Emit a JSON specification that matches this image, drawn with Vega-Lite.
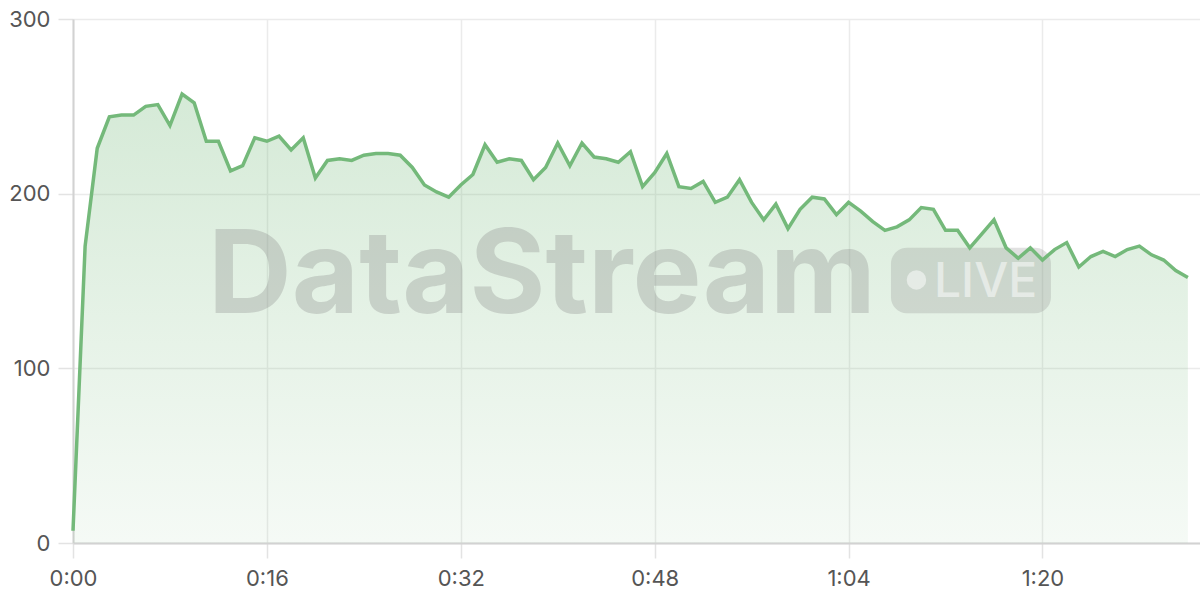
{
  "$schema": "https://vega.github.io/schema/vega-lite/v6.json",
  "description": "DataStream live throughput, one sample per second",
  "width": 1127,
  "height": 524,
  "autosize": {"type": "none"},
  "padding": {"left": 73, "top": 19, "right": 0, "bottom": 57},
  "background": "#ffffff",
  "config": {
    "view": {"stroke": null},
    "axis": {
      "labelFont": "Inter",
      "labelFontSize": 22,
      "labelColor": "#555555",
      "gridColor": "#ebebeb",
      "gridWidth": 1.5,
      "tickColor": "#e3e3e3",
      "tickWidth": 1.5,
      "tickSize": 15,
      "domainColor": "#d2d2d2",
      "domainWidth": 2,
      "title": null
    }
  },
  "datasets": {
    "series": [
      {"t": 0, "v": 7}, {"t": 1, "v": 170}, {"t": 2, "v": 226}, {"t": 3, "v": 244},
      {"t": 4, "v": 245}, {"t": 5, "v": 245}, {"t": 6, "v": 250}, {"t": 7, "v": 251},
      {"t": 8, "v": 239}, {"t": 9, "v": 257}, {"t": 10, "v": 252}, {"t": 11, "v": 230},
      {"t": 12, "v": 230}, {"t": 13, "v": 213}, {"t": 14, "v": 216}, {"t": 15, "v": 232},
      {"t": 16, "v": 230}, {"t": 17, "v": 233}, {"t": 18, "v": 225}, {"t": 19, "v": 232},
      {"t": 20, "v": 209}, {"t": 21, "v": 219}, {"t": 22, "v": 220}, {"t": 23, "v": 219},
      {"t": 24, "v": 222}, {"t": 25, "v": 223}, {"t": 26, "v": 223}, {"t": 27, "v": 222},
      {"t": 28, "v": 215}, {"t": 29, "v": 205}, {"t": 30, "v": 201}, {"t": 31, "v": 198},
      {"t": 32, "v": 205}, {"t": 33, "v": 211}, {"t": 34, "v": 228}, {"t": 35, "v": 218},
      {"t": 36, "v": 220}, {"t": 37, "v": 219}, {"t": 38, "v": 208}, {"t": 39, "v": 215},
      {"t": 40, "v": 229}, {"t": 41, "v": 216}, {"t": 42, "v": 229}, {"t": 43, "v": 221},
      {"t": 44, "v": 220}, {"t": 45, "v": 218}, {"t": 46, "v": 224}, {"t": 47, "v": 204},
      {"t": 48, "v": 212}, {"t": 49, "v": 223}, {"t": 50, "v": 204}, {"t": 51, "v": 203},
      {"t": 52, "v": 207}, {"t": 53, "v": 195}, {"t": 54, "v": 198}, {"t": 55, "v": 208},
      {"t": 56, "v": 195}, {"t": 57, "v": 185}, {"t": 58, "v": 194}, {"t": 59, "v": 180},
      {"t": 60, "v": 191}, {"t": 61, "v": 198}, {"t": 62, "v": 197}, {"t": 63, "v": 188},
      {"t": 64, "v": 195}, {"t": 65, "v": 190}, {"t": 66, "v": 184}, {"t": 67, "v": 179},
      {"t": 68, "v": 181}, {"t": 69, "v": 185}, {"t": 70, "v": 192}, {"t": 71, "v": 191},
      {"t": 72, "v": 179}, {"t": 73, "v": 179}, {"t": 74, "v": 169}, {"t": 75, "v": 177},
      {"t": 76, "v": 185}, {"t": 77, "v": 169}, {"t": 78, "v": 163}, {"t": 79, "v": 169},
      {"t": 80, "v": 162}, {"t": 81, "v": 168}, {"t": 82, "v": 172}, {"t": 83, "v": 158},
      {"t": 84, "v": 164}, {"t": 85, "v": 167}, {"t": 86, "v": 164}, {"t": 87, "v": 168},
      {"t": 88, "v": 170}, {"t": 89, "v": 165}, {"t": 90, "v": 162}, {"t": 91, "v": 156},
      {"t": 92, "v": 152}
    ],
    "brand": [{"t": 38.7, "v": 131.7, "label": "DataStream"}],
    "badge": [{"t": 67.5, "t2": 80.7, "v": 131.5, "v2": 169}],
    "dot": [{"t": 69.6, "v": 150.6}],
    "live": [{"t": 75.3, "v": 140.8, "label": "LIVE"}]
  },
  "encoding": {
    "x": {
      "field": "t",
      "type": "quantitative",
      "scale": {"domain": [0, 93], "nice": false, "zero": false},
      "axis": {
        "values": [0, 16, 32, 48, 64, 80],
        "labelExpr": "floor(datum.value / 60) + ':' + (datum.value % 60 < 10 ? '0' : '') + (datum.value % 60)",
        "labelFlush": false,
        "labelPadding": 10
      }
    },
    "y": {
      "field": "v",
      "type": "quantitative",
      "scale": {"domain": [0, 300], "nice": false},
      "axis": {"values": [0, 100, 200, 300], "labelPadding": 8}
    }
  },
  "layer": [
    {
      "data": {"name": "series"},
      "mark": {
        "type": "area",
        "color": {
          "gradient": "linear",
          "x1": 1, "x2": 1, "y1": 1, "y2": 0,
          "stops": [
            {"offset": 0, "color": "rgba(116,185,122,0.07)"},
            {"offset": 1, "color": "rgba(116,185,122,0.30)"}
          ]
        }
      }
    },
    {
      "data": {"name": "badge"},
      "mark": {"type": "rect", "color": "#888888", "opacity": 0.25, "cornerRadius": 16},
      "encoding": {
        "x2": {"field": "t2"},
        "y2": {"field": "v2"}
      }
    },
    {
      "data": {"name": "brand"},
      "mark": {
        "type": "text",
        "font": "Inter",
        "fontWeight": "bold",
        "fontSize": 116,
        "align": "center",
        "baseline": "alphabetic",
        "color": "#888888",
        "opacity": 0.3
      },
      "encoding": {"text": {"field": "label"}}
    },
    {
      "data": {"name": "dot"},
      "mark": {"type": "point", "shape": "circle", "filled": true, "size": 380, "color": "#ffffff", "opacity": 0.5}
    },
    {
      "data": {"name": "live"},
      "mark": {
        "type": "text",
        "font": "Inter",
        "fontWeight": 500,
        "fontSize": 48,
        "align": "center",
        "baseline": "alphabetic",
        "color": "#ffffff",
        "opacity": 0.5
      },
      "encoding": {"text": {"field": "label"}}
    },
    {
      "data": {"name": "series"},
      "mark": {"type": "line", "color": "#74b97a", "strokeWidth": 3.5, "strokeJoin": "miter"}
    }
  ]
}
